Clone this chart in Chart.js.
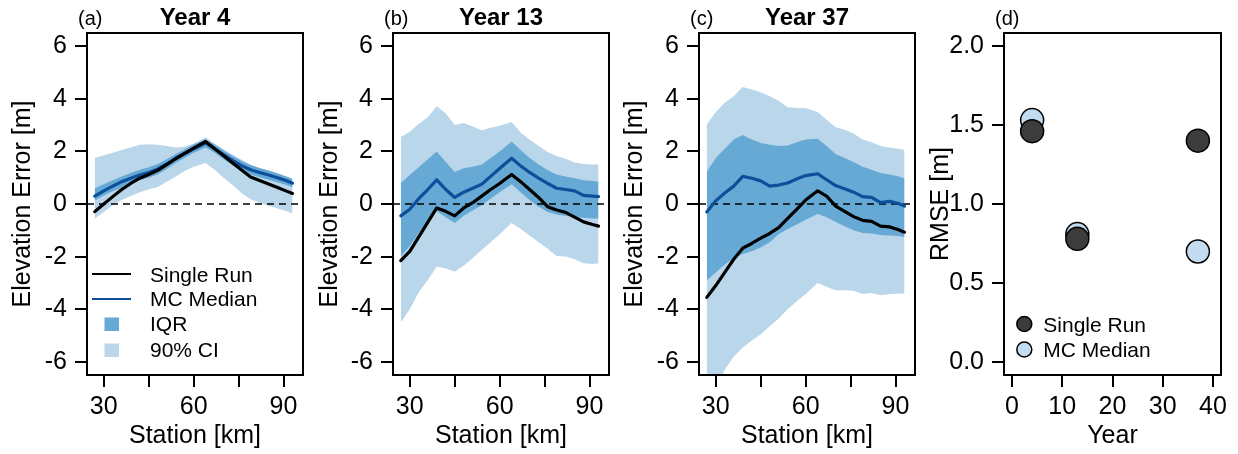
<!DOCTYPE html>
<html><head><meta charset="utf-8">
<script src="https://cdn.jsdelivr.net/npm/chart.js@4.4.0/dist/chart.umd.min.js"></script>
<style>
html,body{margin:0;padding:0;background:#fff;}
#wrap{position:relative;width:1238px;height:454px;overflow:hidden;background:#fff;}
canvas{position:absolute;top:0;}
</style></head><body>
<div id="wrap">
<canvas id="pa" width="323" height="454" style="left:0px;width:323px;height:454px"></canvas>
<canvas id="pb" width="323" height="454" style="left:306px;width:323px;height:454px"></canvas>
<canvas id="pc" width="323" height="454" style="left:612px;width:323px;height:454px"></canvas>
<canvas id="pd" width="321" height="454" style="left:917px;width:321px;height:454px"></canvas>
</div>
<script>
// ---------------- DATA ----------------
const stations = [27,30,33,36,39,42,45,48,51,54,57,60,64,67,70,73,76,79,82,85,88,91,93];

// Year 4
const single4 = [-0.29,0.0,0.28,0.55,0.78,0.98,1.12,1.28,1.5,1.72,1.92,2.12,2.38,2.1,1.83,1.56,1.29,1.03,0.89,0.76,0.63,0.49,0.4];
const median4 = [0.3,0.5,0.68,0.85,0.98,1.1,1.2,1.33,1.52,1.74,1.92,2.1,2.32,2.1,1.88,1.66,1.46,1.3,1.2,1.1,1.0,0.88,0.79];
const iqrLow4 = [0.12,0.32,0.48,0.63,0.77,0.9,1.0,1.12,1.33,1.56,1.76,1.95,2.15,1.95,1.7,1.47,1.27,1.12,1.02,0.92,0.83,0.72,0.64];
const iqrHigh4 = [0.6,0.75,0.9,1.05,1.18,1.3,1.4,1.52,1.7,1.9,2.08,2.26,2.45,2.26,2.03,1.82,1.63,1.48,1.37,1.27,1.17,1.05,0.96];
const ciLow4 = [-0.55,-0.3,-0.05,0.15,0.3,0.45,0.55,0.65,0.85,1.05,1.25,1.42,1.56,1.3,1.0,0.72,0.42,0.18,0.05,-0.07,-0.17,-0.27,-0.36];
const ciHigh4 = [1.75,1.85,1.95,2.05,2.15,2.25,2.27,2.25,2.2,2.15,2.18,2.3,2.54,2.3,2.08,1.88,1.68,1.49,1.35,1.22,1.08,0.95,0.86];

// Year 13
const single13 = [-2.15,-1.8,-1.25,-0.7,-0.15,-0.28,-0.45,-0.15,0.05,0.3,0.55,0.78,1.12,0.85,0.55,0.25,-0.1,-0.23,-0.32,-0.5,-0.68,-0.78,-0.84];
const median13 = [-0.45,-0.2,0.2,0.55,0.92,0.55,0.25,0.45,0.6,0.75,1.05,1.35,1.74,1.45,1.2,0.98,0.78,0.6,0.55,0.5,0.33,0.3,0.28];
const iqrLow13 = [-2.0,-1.6,-1.1,-0.65,-0.28,-0.5,-0.72,-0.45,-0.25,-0.05,0.2,0.45,0.75,0.45,0.15,-0.1,-0.3,-0.4,-0.45,-0.5,-0.52,-0.55,-0.55];
const iqrHigh13 = [0.8,1.1,1.4,1.7,2.0,1.6,1.22,1.36,1.42,1.5,1.75,2.0,2.38,2.05,1.75,1.5,1.28,1.12,1.05,0.98,0.9,0.87,0.85];
const ciLow13 = [-4.5,-4.0,-3.35,-2.9,-2.38,-2.45,-2.58,-2.35,-2.05,-1.75,-1.45,-1.15,-0.72,-0.95,-1.2,-1.45,-1.7,-1.98,-2.0,-2.1,-2.25,-2.28,-2.25];
const ciHigh13 = [2.55,2.75,3.05,3.3,3.72,3.45,3.0,3.08,2.95,2.8,2.9,2.97,3.12,2.72,2.45,2.2,1.98,1.82,1.72,1.58,1.52,1.5,1.5];

// Year 37
const single37 = [-3.55,-3.1,-2.6,-2.1,-1.68,-1.5,-1.3,-1.12,-0.9,-0.55,-0.2,0.15,0.5,0.3,-0.08,-0.28,-0.48,-0.62,-0.66,-0.84,-0.87,-0.98,-1.07];
const median37 = [-0.3,0.12,0.42,0.68,1.05,0.98,0.88,0.68,0.72,0.8,0.95,1.08,1.15,0.92,0.7,0.58,0.45,0.28,0.25,0.05,0.1,0.02,-0.08];
const iqrLow37 = [-2.9,-2.6,-2.3,-2.05,-1.9,-1.8,-1.65,-1.45,-1.15,-0.95,-0.78,-0.6,-0.38,-0.5,-0.68,-0.85,-1.0,-1.1,-1.12,-1.18,-1.2,-1.22,-1.25];
const iqrHigh37 = [1.23,1.75,2.1,2.45,2.62,2.45,2.32,2.25,2.2,2.22,2.35,2.45,2.48,2.2,1.9,1.75,1.6,1.42,1.3,1.18,1.12,1.05,0.98];
const ciLow37 = [-7.8,-7.0,-6.3,-5.8,-5.45,-5.2,-4.95,-4.65,-4.35,-4.0,-3.7,-3.42,-3.0,-3.15,-3.28,-3.28,-3.3,-3.42,-3.38,-3.47,-3.42,-3.4,-3.4];
const ciHigh37 = [3.02,3.5,3.85,4.1,4.45,4.35,4.25,4.1,3.92,3.68,3.65,3.65,3.5,3.2,2.92,2.82,2.68,2.45,2.35,2.2,2.15,2.1,2.05];

// RMSE panel
const years = [4,13,37];
const rmseSingle = [1.46,0.78,1.40];
const rmseMedian = [1.53,0.81,0.70];

// Ticks / labels
const elevTicks = [-6,-4,-2,0,2,4,6];
const elevTickLabels = ['-6','-4','-2','0','2','4','6'];
const stationTicks = [30,45,60,75,90];
const stationTickLabels = ['30','','60','','90'];
const yearTicks = [0,10,20,30,40];
const yearTickLabels = ['0','10','20','30','40'];
const rmseTicks = [0,0.5,1,1.5,2];
const rmseTickLabels = ['0.0','0.5','1.0','1.5','2.0'];
const panelLetters = ['(a)','(b)','(c)','(d)'];
const panelTitles = ['Year 4','Year 13','Year 37',''];
const legendLabels = ['Single Run','MC Median','IQR','90% CI'];
const rmseLegendLabels = ['Single Run','MC Median'];

// ---------------- STYLE ----------------
const FONT = "'Liberation Sans', Arial, Helvetica, sans-serif";
const C_BLACK = '#000000';
const C_MEDIAN = '#0d4f9b';
const C_IQR = '#66a9d5';
const C_CI = '#bad6ea';
const C_PT_DARK = '#3c3c3c';
const C_PT_LIGHT = '#c3dcef';

function pts(xs, ys){ return xs.map((x,i)=>({x:x, y:ys[i]})); }

function makeAxis(min, max, ticks, labels, title, isX, titlePad){
  return {
    type:'linear', min:min, max:max,
    afterBuildTicks: ax => { ax.ticks = ticks.map(v=>({value:v})); },
    afterFit: ax => { if (isX) ax.height = 79; else ax.width = 87; },
    ticks: {
      autoSkip:false, maxRotation:0, minRotation:0, color:'#000',
      font:{family:FONT, size:25}, padding: isX ? 5 : 8,
      callback: (v) => { const k = ticks.indexOf(v); return k >= 0 ? labels[k] : ''; }
    },
    grid: { drawOnChartArea:false, drawTicks:true, tickLength:12, tickWidth:2, lineWidth:2, color:'#000', tickColor:'#000' },
    border: { display:false },
    title: { display:true, text:title, color:'#000', font:{family:FONT, size:25},
             padding: isX ? {top:0, bottom:3} : {top:titlePad, bottom:0} }
  };
}

const deco = {
  id:'deco',
  beforeDatasetDraw(chart, args, opts){
    if (opts.zeroLine && args.index === 1) {
      const ca = chart.chartArea, ctx = chart.ctx;
      const y0 = chart.scales.y.getPixelForValue(0);
      ctx.save();
      ctx.beginPath();
      ctx.rect(ca.left, ca.top, ca.right-ca.left, ca.bottom-ca.top);
      ctx.clip();
      ctx.strokeStyle = '#000'; ctx.lineWidth = 1.6; ctx.setLineDash([7,5]);
      ctx.beginPath(); ctx.moveTo(ca.left, y0); ctx.lineTo(ca.right, y0); ctx.stroke();
      ctx.restore();
    }
  },
  afterDraw(chart, args, opts){
    const ctx = chart.ctx, ca = chart.chartArea;
    ctx.save();
    ctx.strokeStyle = '#000'; ctx.lineWidth = 2; ctx.setLineDash([]);
    ctx.strokeRect(ca.left, ca.top, ca.right-ca.left, ca.bottom-ca.top);
    ctx.fillStyle = '#000'; ctx.textBaseline = 'alphabetic';
    ctx.font = '20px ' + FONT; ctx.textAlign = 'left';
    ctx.fillText(opts.letter, ca.left - 9, 24.5);
    if (opts.title) {
      ctx.font = 'bold 24px ' + FONT; ctx.textAlign = 'center';
      ctx.fillText(opts.title, (ca.left + ca.right)/2, 24.5);
    }
    if (opts.legend === 'bands') {
      const L = ca.left;
      ctx.lineWidth = 2;
      ctx.strokeStyle = C_BLACK;
      ctx.beginPath(); ctx.moveTo(L+5, 274); ctx.lineTo(L+44, 274); ctx.stroke();
      ctx.strokeStyle = C_MEDIAN;
      ctx.beginPath(); ctx.moveTo(L+5, 299); ctx.lineTo(L+44, 299); ctx.stroke();
      ctx.fillStyle = C_IQR; ctx.fillRect(L+17.5, 317.5, 14.5, 13.5);
      ctx.fillStyle = C_CI; ctx.fillRect(L+17.5, 343.5, 14.5, 13.5);
      ctx.fillStyle = '#000'; ctx.font = '21px ' + FONT; ctx.textAlign = 'left';
      const bl = [281.5, 306, 331, 357];
      legendLabels.forEach((t,i)=>ctx.fillText(t, L+63, bl[i]));
    } else if (opts.legend === 'points') {
      const L = ca.left;
      const cy = [324, 349.5], fills = [C_PT_DARK, C_PT_LIGHT];
      for (let i=0;i<2;i++){
        ctx.beginPath(); ctx.arc(L+20.3, cy[i], 7.5, 0, Math.PI*2);
        ctx.fillStyle = fills[i]; ctx.fill();
        ctx.lineWidth = 1.5; ctx.strokeStyle = '#000'; ctx.stroke();
      }
      ctx.fillStyle = '#000'; ctx.font = '21px ' + FONT; ctx.textAlign = 'left';
      ctx.fillText(rmseLegendLabels[0], L+39.3, 331.5);
      ctx.fillText(rmseLegendLabels[1], L+39.3, 357);
    }
    ctx.restore();
  }
};

function bandPanel(id, idx, single, median, iqrLo, iqrHi, ciLo, ciHi, plotW, canvasW, titlePad, legend){
  const lineBase = {pointRadius:0, pointHoverRadius:0, tension:0, borderCapStyle:'round', borderJoinStyle:'round', fill:false};
  new Chart(document.getElementById(id), {
    type:'line',
    data:{ datasets:[
      Object.assign({}, lineBase, {label:'Single Run', data:pts(stations, single), borderColor:C_BLACK, borderWidth:3.2}),
      Object.assign({}, lineBase, {label:'MC Median', data:pts(stations, median), borderColor:C_MEDIAN, borderWidth:3.2}),
      Object.assign({}, lineBase, {label:'IQR upper', data:pts(stations, iqrHi), borderWidth:0, borderColor:'rgba(0,0,0,0)', backgroundColor:C_IQR, fill:3}),
      Object.assign({}, lineBase, {label:'IQR lower', data:pts(stations, iqrLo), borderWidth:0, borderColor:'rgba(0,0,0,0)'}),
      Object.assign({}, lineBase, {label:'CI upper', data:pts(stations, ciHi), borderWidth:0, borderColor:'rgba(0,0,0,0)', backgroundColor:C_CI, fill:5}),
      Object.assign({}, lineBase, {label:'CI lower', data:pts(stations, ciLo), borderWidth:0, borderColor:'rgba(0,0,0,0)'})
    ]},
    options:{
      responsive:false, animation:false, devicePixelRatio:1,
      layout:{ padding:{ top:33, left:0, bottom:0, right: canvasW - 87 - plotW } },
      scales:{
        x: makeAxis(24.4, 96.5, stationTicks, stationTickLabels, 'Station [km]', true, 0),
        y: makeAxis(-6.5, 6.5, elevTicks, elevTickLabels, 'Elevation Error [m]', false, titlePad)
      },
      plugins:{
        legend:{display:false}, tooltip:{enabled:false},
        deco:{ letter:panelLetters[idx], title:panelTitles[idx], zeroLine:true, legend:legend }
      }
    },
    plugins:[deco]
  });
}

bandPanel('pa', 0, single4, median4, iqrLow4, iqrHigh4, ciLow4, ciHigh4, 216, 323, 8, 'bands');
bandPanel('pb', 1, single13, median13, iqrLow13, iqrHigh13, ciLow13, ciHigh13, 216, 323, 9, null);
bandPanel('pc', 2, single37, median37, iqrLow37, iqrHigh37, ciLow37, ciHigh37, 216, 323, 8, null);

new Chart(document.getElementById('pd'), {
  type:'scatter',
  data:{ datasets:[
    {label:'Single Run', data:pts(years, rmseSingle), pointRadius:11.5, pointHoverRadius:11.5, backgroundColor:C_PT_DARK, borderColor:'#000', borderWidth:1.5},
    {label:'MC Median', data:pts(years, rmseMedian), pointRadius:11.5, pointHoverRadius:11.5, backgroundColor:C_PT_LIGHT, borderColor:'#000', borderWidth:1.5}
  ]},
  options:{
    responsive:false, animation:false, devicePixelRatio:1,
    layout:{ padding:{ top:33, left:0, bottom:0, right: 321 - 87 - 217 } },
    scales:{
      x: makeAxis(-1.6, 41.6, yearTicks, yearTickLabels, 'Year', true, 0),
      y: makeAxis(-0.08, 2.08, rmseTicks, rmseTickLabels, 'RMSE [m]', false, 9)
    },
    plugins:{
      legend:{display:false}, tooltip:{enabled:false},
      deco:{ letter:panelLetters[3], title:panelTitles[3], zeroLine:false, legend:'points' }
    }
  },
  plugins:[deco]
});
</script>
</body></html>
